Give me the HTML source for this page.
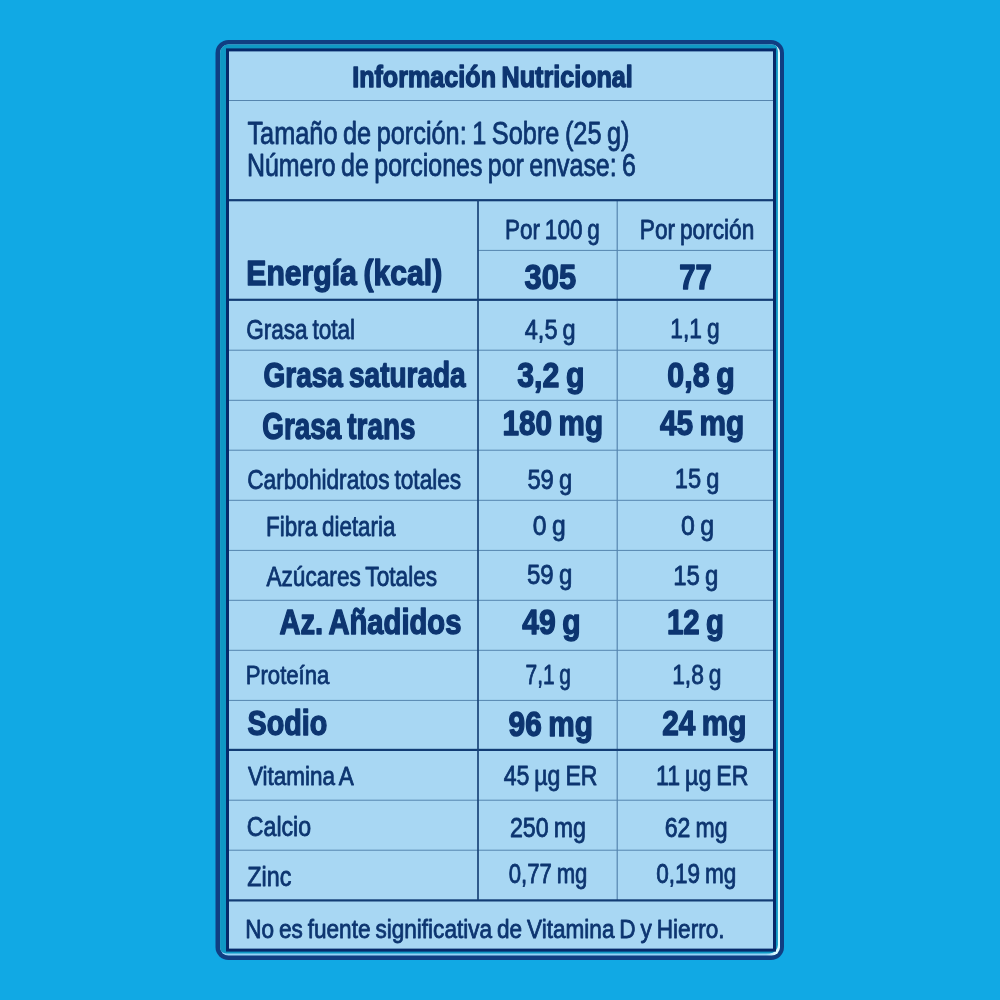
<!DOCTYPE html>
<html lang="es">
<head>
<meta charset="utf-8">
<title>Información Nutricional</title>
<style>
html,body{margin:0;padding:0;background:#11a9e4;}
body{width:1000px;height:1000px;overflow:hidden;}
svg{display:block;font-family:"Liberation Sans",Arial,Helvetica,sans-serif;}
text{fill:#0d3570;word-spacing:-0.06em;stroke-linejoin:round;}
</style>
</head>
<body>
<svg width="1000" height="1000" viewBox="0 0 1000 1000" role="img" aria-label="Información Nutricional">
<defs><linearGradient id="hl" gradientUnits="userSpaceOnUse" x1="766" y1="0" x2="776" y2="0"><stop offset="0" stop-color="#93d2f6"/><stop offset="1" stop-color="#dcfaff"/></linearGradient><clipPath id="inner"><rect x="220.10" y="44.50" width="559.90" height="911.10" rx="8.40"/></clipPath></defs>
<rect width="1000" height="1000" fill="#11a9e4"/>
<rect x="215.5" y="40" width="568.5" height="920" rx="13" fill="#103e82"/>
<rect x="220.10" y="44.50" width="559.90" height="911.10" rx="8.40" fill="url(#hl)"/>
<rect x="218.00" y="42.40" width="559.90" height="911.10" rx="8.40" fill="#0f98c4" clip-path="url(#inner)"/>
<rect x="226" y="48.4" width="550" height="903.2" fill="#06296a"/>
<rect x="229" y="51.4" width="544" height="897.2" fill="#a8d7f3"/>
<rect x="229" y="100.00" width="544" height="1.0" fill="#5585ae"/>
<rect x="478" y="249.90" width="295" height="1.0" fill="#5585ae"/>
<rect x="229" y="349.70" width="544" height="1.0" fill="#5585ae"/>
<rect x="229" y="399.80" width="544" height="1.0" fill="#5585ae"/>
<rect x="229" y="449.70" width="544" height="1.0" fill="#5585ae"/>
<rect x="229" y="499.80" width="544" height="1.0" fill="#5585ae"/>
<rect x="229" y="549.90" width="544" height="1.0" fill="#5585ae"/>
<rect x="229" y="599.80" width="544" height="1.0" fill="#5585ae"/>
<rect x="229" y="649.80" width="544" height="1.0" fill="#5585ae"/>
<rect x="229" y="699.90" width="544" height="1.0" fill="#5585ae"/>
<rect x="229" y="799.70" width="544" height="1.0" fill="#5585ae"/>
<rect x="229" y="849.70" width="544" height="1.0" fill="#5585ae"/>
<rect x="616.60" y="200" width="1.2" height="700" fill="#5585ae"/>
<rect x="229" y="199.10" width="544" height="2.2" fill="#123c74"/>
<rect x="229" y="298.70" width="544" height="2.2" fill="#123c74"/>
<rect x="229" y="748.80" width="544" height="2.2" fill="#123c74"/>
<rect x="229" y="899.30" width="544" height="2.2" fill="#123c74"/>
<rect x="477.15" y="200" width="1.7" height="700" fill="#1c4679"/>
<g>
<text transform="translate(352.15 87.20) scale(0.8392 1)" font-size="29.97" font-weight="700" stroke="#0d3570" stroke-width="1.4">Información Nutricional</text>
<text transform="translate(247.40 144.00) scale(0.8132 1)" font-size="31.14" stroke="#0d3570" stroke-width="0.8">Tamaño de porción: 1 Sobre (25 g)</text>
<text transform="translate(246.95 176.20) scale(0.8013 1)" font-size="31.14" stroke="#0d3570" stroke-width="0.8">Número de porciones por envase: 6</text>
<text transform="translate(504.93 239.00) scale(0.8391 1)" font-size="26.84" stroke="#0d3570" stroke-width="0.8">Por 100 g</text>
<text transform="translate(639.82 239.00) scale(0.8445 1)" font-size="26.84" stroke="#0d3570" stroke-width="0.8">Por porción</text>
<text transform="translate(246.29 284.60) scale(0.8624 1)" font-size="34.97" font-weight="700" stroke="#0d3570" stroke-width="1.4">Energía (kcal)</text>
<text transform="translate(524.58 288.70) scale(0.8641 1)" font-size="35.77" font-weight="700" stroke="#0d3570" stroke-width="1.4">305</text>
<text transform="translate(679.18 288.60) scale(0.8209 1)" font-size="35.77" font-weight="700" stroke="#0d3570" stroke-width="1.4">77</text>
<text transform="translate(246.16 338.50) scale(0.8409 1)" font-size="26.84" stroke="#0d3570" stroke-width="0.8">Grasa total</text>
<text transform="translate(524.78 339.40) scale(0.8761 1)" font-size="26.84" stroke="#0d3570" stroke-width="0.8">4,5 g</text>
<text transform="translate(670.31 337.90) scale(0.8491 1)" font-size="26.84" stroke="#0d3570" stroke-width="0.8">1,1 g</text>
<text transform="translate(263.60 387.00) scale(0.8004 1)" font-size="34.97" font-weight="700" stroke="#0d3570" stroke-width="1.4">Grasa saturada</text>
<text transform="translate(517.29 386.70) scale(0.8534 1)" font-size="35.47" font-weight="700" stroke="#0d3570" stroke-width="1.4">3,2 g</text>
<text transform="translate(667.36 386.90) scale(0.8551 1)" font-size="35.47" font-weight="700" stroke="#0d3570" stroke-width="1.4">0,8 g</text>
<text transform="translate(262.23 438.60) scale(0.7581 1)" font-size="36.77" font-weight="700" stroke="#0d3570" stroke-width="1.4">Grasa trans</text>
<text transform="translate(502.59 434.60) scale(0.8368 1)" font-size="35.47" font-weight="700" stroke="#0d3570" stroke-width="1.4">180 mg</text>
<text transform="translate(659.91 434.60) scale(0.8409 1)" font-size="35.47" font-weight="700" stroke="#0d3570" stroke-width="1.4">45 mg</text>
<text transform="translate(247.16 489.00) scale(0.8386 1)" font-size="27.04" stroke="#0d3570" stroke-width="0.8">Carbohidratos totales</text>
<text transform="translate(527.39 488.50) scale(0.8800 1)" font-size="27.04" stroke="#0d3570" stroke-width="0.8">59 g</text>
<text transform="translate(674.87 488.45) scale(0.8754 1)" font-size="27.04" stroke="#0d3570" stroke-width="0.8">15 g</text>
<text transform="translate(266.05 536.10) scale(0.8264 1)" font-size="27.14" stroke="#0d3570" stroke-width="0.8">Fibra dietaria</text>
<text transform="translate(532.87 535.30) scale(0.9126 1)" font-size="27.04" stroke="#0d3570" stroke-width="0.8">0 g</text>
<text transform="translate(681.01 535.30) scale(0.9185 1)" font-size="27.04" stroke="#0d3570" stroke-width="0.8">0 g</text>
<text transform="translate(266.41 586.30) scale(0.8379 1)" font-size="27.04" stroke="#0d3570" stroke-width="0.8">Azúcares Totales</text>
<text transform="translate(527.03 584.30) scale(0.8872 1)" font-size="27.04" stroke="#0d3570" stroke-width="0.8">59 g</text>
<text transform="translate(673.20 584.60) scale(0.8869 1)" font-size="27.04" stroke="#0d3570" stroke-width="0.8">15 g</text>
<text transform="translate(279.39 634.30) scale(0.8399 1)" font-size="34.77" font-weight="700" stroke="#0d3570" stroke-width="1.4">Az. Añadidos</text>
<text transform="translate(522.21 633.90) scale(0.8474 1)" font-size="35.47" font-weight="700" stroke="#0d3570" stroke-width="1.4">49 g</text>
<text transform="translate(666.91 633.90) scale(0.8281 1)" font-size="35.47" font-weight="700" stroke="#0d3570" stroke-width="1.4">12 g</text>
<text transform="translate(245.70 684.45) scale(0.8312 1)" font-size="26.64" stroke="#0d3570" stroke-width="0.8">Proteína</text>
<text transform="translate(525.62 684.40) scale(0.7794 1)" font-size="26.84" stroke="#0d3570" stroke-width="0.8">7,1 g</text>
<text transform="translate(672.16 684.40) scale(0.8500 1)" font-size="26.84" stroke="#0d3570" stroke-width="0.8">1,8 g</text>
<text transform="translate(247.59 735.40) scale(0.8322 1)" font-size="34.47" font-weight="700" stroke="#0d3570" stroke-width="1.4">Sodio</text>
<text transform="translate(508.58 735.50) scale(0.8333 1)" font-size="35.77" font-weight="700" stroke="#0d3570" stroke-width="1.4">96 mg</text>
<text transform="translate(662.23 735.35) scale(0.8333 1)" font-size="35.77" font-weight="700" stroke="#0d3570" stroke-width="1.4">24 mg</text>
<text transform="translate(248.01 785.30) scale(0.8445 1)" font-size="26.64" stroke="#0d3570" stroke-width="0.8">Vitamina A</text>
<text transform="translate(503.63 785.15) scale(0.8606 1)" font-size="26.84" stroke="#0d3570" stroke-width="0.8">45 µg ER</text>
<text transform="translate(655.99 785.15) scale(0.8632 1)" font-size="26.84" stroke="#0d3570" stroke-width="0.8">11 µg ER</text>
<text transform="translate(246.84 836.30) scale(0.8560 1)" font-size="27.04" stroke="#0d3570" stroke-width="0.8">Calcio</text>
<text transform="translate(509.94 837.30) scale(0.8643 1)" font-size="26.84" stroke="#0d3570" stroke-width="0.8">250 mg</text>
<text transform="translate(664.74 837.30) scale(0.8601 1)" font-size="26.84" stroke="#0d3570" stroke-width="0.8">62 mg</text>
<text transform="translate(247.27 885.90) scale(0.8683 1)" font-size="26.84" stroke="#0d3570" stroke-width="0.8">Zinc</text>
<text transform="translate(508.74 882.95) scale(0.8191 1)" font-size="27.04" stroke="#0d3570" stroke-width="0.8">0,77 mg</text>
<text transform="translate(656.17 882.95) scale(0.8346 1)" font-size="27.04" stroke="#0d3570" stroke-width="0.8">0,19 mg</text>
<text transform="translate(245.20 937.70) scale(0.8578 1)" font-size="26.34" stroke="#0d3570" stroke-width="0.8">No es fuente significativa de Vitamina D y Hierro.</text>
</g>
</svg>
</body>
</html>
